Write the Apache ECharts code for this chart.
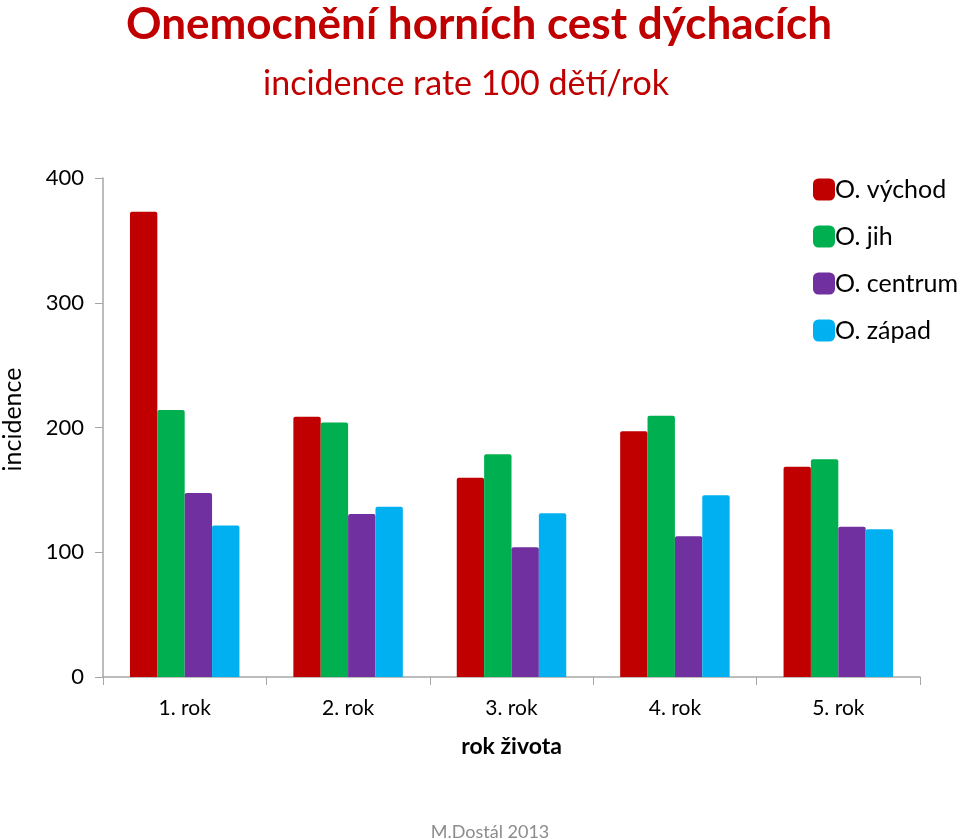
<!DOCTYPE html>
<html><head><meta charset="utf-8">
<script src="https://cdn.jsdelivr.net/npm/echarts@6/dist/echarts.min.js"></script>
<style>html,body{margin:0;padding:0;background:#fff}#c{width:960px;height:839px}</style>
</head><body><div id="c"></div>
<script>
var categories = ['1. rok', '2. rok', '3. rok', '4. rok', '5. rok'];
var seriesNames = ['O. východ', 'O. jih', 'O. centrum', 'O. západ'];
var vychod = [373, 208.7, 159.8, 197, 168.6];
var jih = [214, 204, 178.5, 209.5, 174.5];
var centrum = [147.5, 130.7, 104, 112.8, 120.5];
var zapad = [121.5, 136.5, 131.2, 145.6, 118.4];
var yTicks = [0, 100, 200, 300, 400];
var colors = ['#c00000', '#00b050', '#7030a0', '#00b0f0'];
var font = 'Lato, "Open Sans", sans-serif';
var data = [vychod, jih, centrum, zapad];
var chart = echarts.init(document.getElementById('c'));
chart.setOption({
  animation: false,
  textStyle: {fontFamily: font},
  title: [
    {text: 'Onemocnění horních cest dýchacích', left: 474, top: -2, textAlign: 'center',
     textStyle: {fontFamily: font, fontSize: 44, fontWeight: 'bold', color: '#c00000'}},
    {text: 'incidence rate 100 dětí/rok', left: 461, top: 62, textAlign: 'center',
     textStyle: {fontFamily: font, fontSize: 34, fontWeight: 'normal', color: '#c00000'}},
    {text: 'M.Dostál 2013', left: 485, top: 818, textAlign: 'center',
     textStyle: {fontFamily: font, fontSize: 18, fontWeight: 'normal', color: '#8c8c8c'}}
  ],
  legend: {
    orient: 'vertical', left: 808, top: 172, itemWidth: 22, itemHeight: 22, itemGap: 22,
    icon: 'roundRect',
    data: seriesNames,
    textStyle: {fontFamily: font, fontSize: 25, color: '#000', padding: [0,0,0,-5]}
  },
  grid: {left: 103, right: 40, top: 178, bottom: 162, containLabel: false, outerBoundsMode: 'none'},
  xAxis: {
    type: 'category', data: categories,
    name: 'rok života', nameLocation: 'middle', nameGap: 58,
    nameTextStyle: {fontFamily: font, fontSize: 23, fontWeight: 'bold', color: '#000'},
    axisLine: {lineStyle: {color: '#a6a6a6', width: 1.5}},
    axisTick: {show: true, length: 8, lineStyle: {color: '#a6a6a6'}},
    axisLabel: {fontFamily: font, fontSize: 21, color: '#000', margin: 21}
  },
  yAxis: {
    type: 'value', min: 0, max: 400, interval: 100,
    name: 'incidence', nameLocation: 'middle', nameGap: 78, nameRotate: 90,
    nameTextStyle: {fontFamily: font, fontSize: 25, color: '#000', padding: [0, 0, 0, 16]},
    axisLine: {show: true, lineStyle: {color: '#a6a6a6', width: 1.5}},
    axisTick: {show: true, length: 8, lineStyle: {color: '#a6a6a6'}},
    splitLine: {show: false},
    axisLabel: {fontFamily: font, fontSize: 22, color: '#000', margin: 19,
      customValues: yTicks}
  },
  series: seriesNames.map(function (n, i) {
    return {
      name: n, type: 'bar', data: data[i], barGap: '0%', barCategoryGap: '33%',
      itemStyle: {color: colors[i], borderRadius: [2, 2, 0, 0]}
    };
  })
});
</script></body></html>
